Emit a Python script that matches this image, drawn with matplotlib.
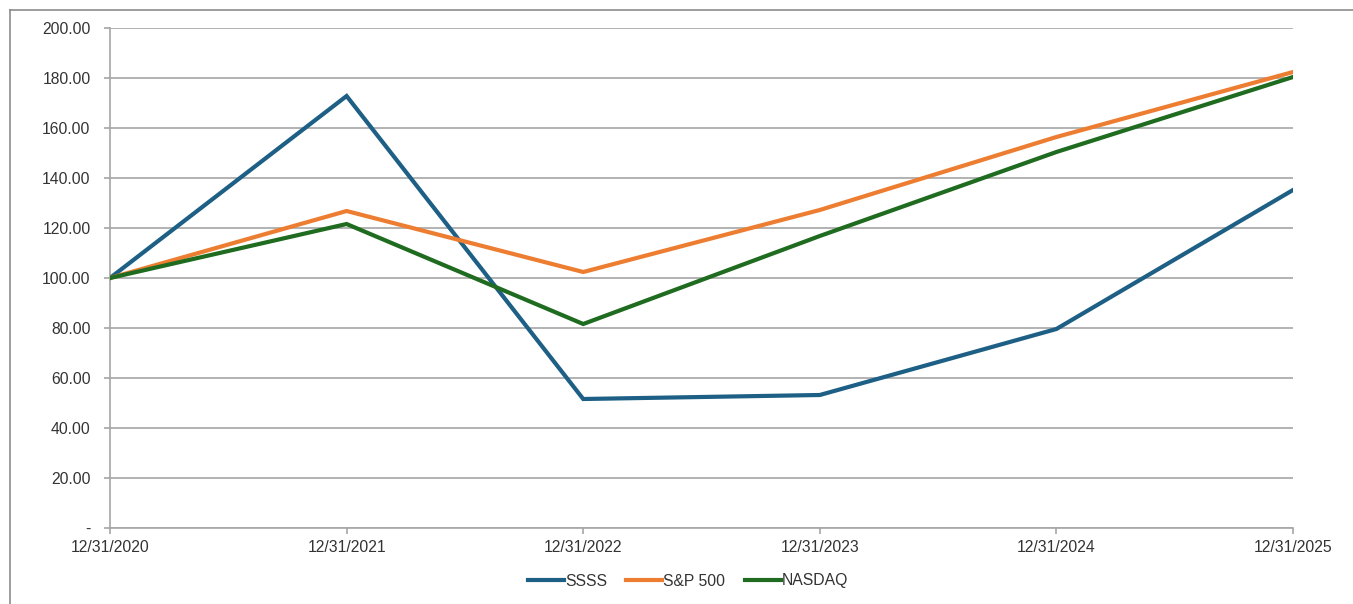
import matplotlib
matplotlib.use("Agg")
import matplotlib.pyplot as plt
from matplotlib.lines import Line2D
from matplotlib.ticker import FuncFormatter

dates = ["12/31/2020", "12/31/2021", "12/31/2022", "12/31/2023", "12/31/2024", "12/31/2025"]
ssss = [100.0, 172.8, 51.6, 53.2, 79.6, 135.2]
sp500 = [100.0, 126.8, 102.4, 127.2, 156.4, 182.4]
nasdaq = [100.0, 121.6, 81.6, 116.8, 150.4, 180.4]
series_names = ["SSSS", "S&P 500", "NASDAQ"]
colors = ["#1d5f85", "#ed7d31", "#1f6b1f"]

plt.rcParams['font.family'] = ['Liberation Sans', 'DejaVu Sans']

fig = plt.figure(figsize=(13.53, 6.04), dpi=100)
ax = fig.add_axes([110/1353, 1 - 528/604, (1293-110)/1353, 500/604])

x = list(range(len(dates)))
for vals, name, c in zip([ssss, sp500, nasdaq], series_names, colors):
    ax.plot(x, vals, color=c, lw=3.0, label=name, solid_joinstyle='miter', zorder=3)

ax.set_xlim(0, len(dates) - 1)
ax.set_ylim(0, 200)
ax.set_yticks(range(0, 201, 20))
ax.yaxis.set_major_formatter(FuncFormatter(lambda v, p: "-" if v == 0 else f"{v:.2f}"))
ax.set_xticks(x)
ax.set_xticklabels(dates)
ax.grid(axis='y', color='#a6a6a6', lw=1.2, zorder=1)
for s in ['top', 'right']:
    ax.spines[s].set_visible(False)
for s in ['left', 'bottom']:
    ax.spines[s].set_color('#a6a6a6')
    ax.spines[s].set_linewidth(1.2)
ax.tick_params(axis='both', colors='#a6a6a6', labelcolor='#333333', labelsize=11.3, length=4, width=1.2)
ax.tick_params(axis='x', pad=5)
ax.tick_params(axis='y', pad=10)

leg = fig.legend(loc='center', bbox_to_anchor=(688/1353, 1 - 581/604), ncol=3, frameon=False,
                 fontsize=11.3, handlelength=2.3, handletextpad=0.05, columnspacing=1.25)
for t in leg.get_texts():
    t.set_color('#333333')

# outer frame: top and left edges only
fig.add_artist(Line2D([10/1353, 1.0], [1 - 10/604, 1 - 10/604], transform=fig.transFigure,
                      color='#8c8c8c', lw=1.2))
fig.add_artist(Line2D([10/1353, 10/1353], [1 - 10/604, 0.0], transform=fig.transFigure,
                      color='#8c8c8c', lw=1.2))

fig.savefig("out.png", dpi=100)
